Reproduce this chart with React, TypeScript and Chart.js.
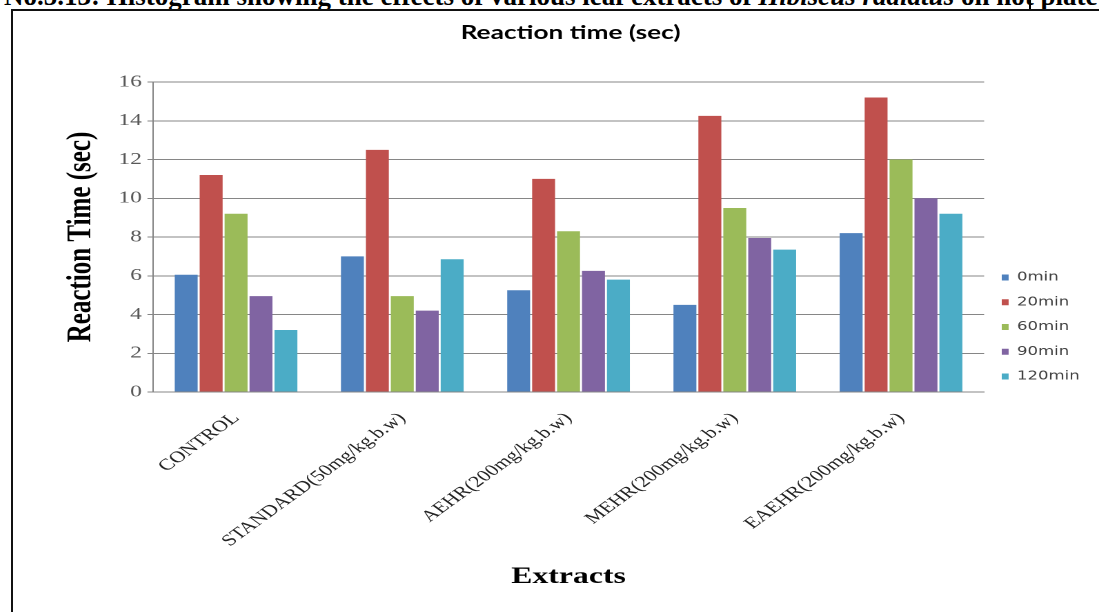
import React, { useEffect, useRef } from "react";
import { Chart, registerables } from "chart.js";

Chart.register(...registerables);

// Treatment groups on the category axis
const extracts = [
  "CONTROL",
  "STANDARD(50mg/kg.b.w)",
  "AEHR(200mg/kg.b.w)",
  "MEHR(200mg/kg.b.w)",
  "EAEHR(200mg/kg.b.w)",
];

// Observation times (one series each)
const timePoints = ["0min", "20min", "60min", "90min", "120min"];

// Reaction time in seconds, per extract
const min0 = [6.05, 7.0, 5.25, 4.5, 8.2];
const min20 = [11.2, 12.5, 11.0, 14.25, 15.2];
const min60 = [9.2, 4.95, 8.3, 9.5, 12.0];
const min90 = [4.95, 4.2, 6.25, 7.95, 10.0];
const min120 = [3.2, 6.85, 5.8, 7.35, 9.2];
const seriesValues = [min0, min20, min60, min90, min120];

const seriesColors = ["#4F81BD", "#C0504D", "#9BBB59", "#8064A2", "#4BACC6"];

const yMin = 0;
const yMax = 16;
const yStep = 2;

// The chart is drawn narrow and widened horizontally, like a stretched Excel figure
const STRETCH = 1.38;
const CHART_W = 790;
const CHART_H = 630;

export default function App() {
  const canvasRef = useRef<HTMLCanvasElement>(null);

  useEffect(() => {
    const canvas = canvasRef.current;
    if (!canvas) return;
    const chart = new Chart(canvas, {
      type: "bar",
      data: {
        labels: extracts,
        datasets: timePoints.map((t, i) => ({
          label: t,
          data: seriesValues[i],
          backgroundColor: seriesColors[i],
          borderWidth: 0,
          categoryPercentage: 0.75,
          barPercentage: 0.92,
        })),
      },
      options: {
        animation: false,
        responsive: false,
        devicePixelRatio: 2,
        layout: { padding: { left: 25, right: 7, top: 0, bottom: 0 } },
        plugins: {
          title: {
            display: true,
            text: "Reaction time (sec)",
            color: "#000",
            font: { family: "Lato", weight: "bold", size: 19 },
            padding: { top: 9.6, bottom: 37.6 },
          },
          legend: {
            position: "right",
            align: "center",
            labels: {
              boxWidth: 5,
              boxHeight: 6,
              padding: 12.75,
              color: "#404040",
              font: { family: "DejaVu Sans", size: 12 },
            },
          },
          tooltip: { enabled: false },
        },
        scales: {
          x: {
            grid: { display: false },
            border: { display: true, color: "#868686", width: 1 },
            ticks: {
              autoSkip: false,
              minRotation: 45,
              maxRotation: 45,
              padding: 9,
              color: "#222",
              font: { family: "Liberation Serif", size: 16 },
            },
            title: {
              display: true,
              text: "Extracts",
              color: "#000",
              font: { family: "Liberation Serif", size: 23, weight: "bold" },
              padding: { top: 0, bottom: 51.2 },
            },
            afterFit: (scale: any) => {
              scale.height = 250;
            },
          },
          y: {
            min: yMin,
            max: yMax,
            ticks: {
              stepSize: yStep,
              padding: 4,
              color: "#595959",
              font: { family: "Liberation Serif", size: 17 },
            },
            grid: { color: "#868686", tickLength: 4, lineWidth: 1 },
            border: { display: true, color: "#868686", width: 1 },
            title: {
              display: true,
              text: "Reaction Time (sec)",
              color: "#000",
              font: { family: "Liberation Serif", size: 25, weight: "bold" },
              padding: { top: 9.3, bottom: 0 },
            },
            afterFit: (scale: any) => {
              scale.width = 76.4;
            },
          },
        },
      },
    });
    return () => chart.destroy();
  }, []);

  return (
    <div
      style={{
        position: "fixed",
        left: 0,
        top: 0,
        width: 1099,
        height: 612,
        overflow: "hidden",
        background: "#fff",
      }}
    >
      <div
        style={{
          position: "absolute",
          left: 4,
          top: -17,
          whiteSpace: "nowrap",
          font: "bold 27px/27px 'Liberation Serif'",
          color: "#000",
        }}
      >
        No.5.13: Histogram showing the effects of various leaf extracts of{" "}
        <i>Hibiscus radiatus</i> on hot plate method
      </div>
      <div
        style={{
          position: "absolute",
          left: 1029,
          top: 0,
          width: 2,
          height: 10,
          background: "#000",
        }}
      />
      <div
        style={{
          position: "absolute",
          left: 11,
          top: 9,
          width: 1200,
          height: 700,
          borderTop: "2px solid #111",
          borderLeft: "2px solid #111",
          background: "#fff",
        }}
      />
      <div
        style={{
          position: "absolute",
          left: 13,
          top: 12,
          width: CHART_W,
          height: CHART_H,
          transform: `scaleX(${STRETCH})`,
          transformOrigin: "0 0",
        }}
      >
        <canvas
          ref={canvasRef}
          width={CHART_W}
          height={CHART_H}
          style={{ display: "block" }}
        />
      </div>
    </div>
  );
}
